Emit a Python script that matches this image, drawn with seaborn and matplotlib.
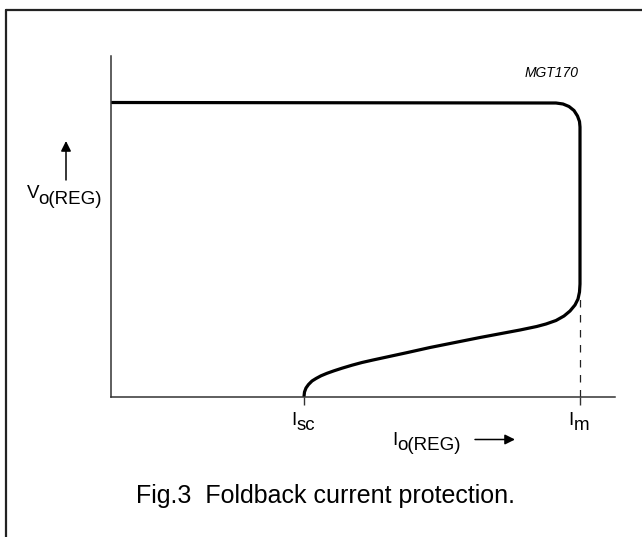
import matplotlib
matplotlib.use("Agg")
import matplotlib.pyplot as plt
from matplotlib.lines import Line2D
import seaborn as sns

# Foldback curve (arbitrary units: current, voltage)
current = [1, 445, 452, 458, 463, 466.5, 468.5, 469,
           469, 468.5, 467, 464, 459, 453, 445, 435, 425.7,
           409, 369, 319, 295.7, 262, 251, 241, 231, 223, 216, 210,
           205, 201, 197.5, 195, 193.5, 193]
voltage = [294.5, 294, 293, 290.5, 286.5, 281, 275.5, 270,
           113, 105, 98, 92, 86, 81, 76.5, 73, 70.5,
           67, 59.5, 49.5, 44.3, 37, 34.5, 31.8, 28.8, 26.2, 23.7, 21.2,
           18.5, 16, 12.5, 9, 5, 0.5]

tick_pos = [193, 469]          # I_sc, I_m
im_dash_top = 99               # dashed drop line at I_m
x_max, y_max = 504, 341

W, H = 642, 537

sns.set_theme(style="white")
plt.rcParams['font.family'] = ['Liberation Sans', 'DejaVu Sans']
plt.rcParams['text.color'] = 'black'


def fx(px):
    return px / W


def fy(py):
    return 1 - py / H


fig = plt.figure(figsize=(W / 100, H / 100), dpi=100)
fig.patch.set_facecolor("white")
ax = fig.add_axes([fx(111), fy(397), (615 - 111) / W, (397 - 56) / H])

sns.lineplot(x=current, y=voltage, sort=False, estimator=None,
             color="black", linewidth=2.3, ax=ax)
ax.lines[0].set_solid_joinstyle("round")
ax.lines[0].set_solid_capstyle("round")

ax.vlines(tick_pos[1], 0, im_dash_top, colors="#222222", linewidth=0.9,
          linestyles=(0, (6, 6)))

ax.set_xlim(0, x_max)
ax.set_ylim(0, y_max)
ax.set_xticks(tick_pos)
ax.set_xticklabels(["", ""])
ax.set_yticks([])
ax.tick_params(axis="x", direction="out", length=5.5, width=1.0,
               colors="#333333", bottom=True)
for spine in ["top", "right"]:
    ax.spines[spine].set_visible(False)
for spine in ["left", "bottom"]:
    ax.spines[spine].set_color("#333333")
    ax.spines[spine].set_linewidth(1.1)
ax.set_facecolor("none")
ax.grid(False)

# frame (only top and left edges are visible)
fig.add_artist(Line2D([fx(5.7), 1], [fy(9.5), fy(9.5)], color="#222222",
                      linewidth=1.6, transform=fig.transFigure))
fig.add_artist(Line2D([fx(5.7), fx(5.7)], [fy(9.5), 0], color="#222222",
                      linewidth=1.6, transform=fig.transFigure))

lab = 13.5
# V_o(REG)
fig.text(fx(26.6), fy(198), "V", fontsize=lab, va="baseline", ha="left")
fig.text(fx(38.5), fy(204.5), "o(REG)", fontsize=lab, va="baseline", ha="left")
# I_sc, I_m
fig.text(fx(291), fy(425), "I", fontsize=lab, va="baseline", ha="left")
fig.text(fx(296.5), fy(430), "sc", fontsize=lab, va="baseline", ha="left")
fig.text(fx(568.5), fy(425), "I", fontsize=lab, va="baseline", ha="left")
fig.text(fx(573.5), fy(430), "m", fontsize=lab, va="baseline", ha="left")
# I_o(REG)
fig.text(fx(392.5), fy(445), "I", fontsize=lab, va="baseline", ha="left")
fig.text(fx(397), fy(450), "o(REG)", fontsize=lab, va="baseline", ha="left")

arrow = dict(arrowstyle="-|>", color="black", lw=1.1, mutation_scale=15,
             shrinkA=0, shrinkB=0)
ax.annotate("", xy=(fx(515), fy(439.5)), xycoords="figure fraction",
            xytext=(fx(475), fy(439.5)), textcoords="figure fraction",
            arrowprops=arrow, annotation_clip=False)
ax.annotate("", xy=(fx(66), fy(141)), xycoords="figure fraction",
            xytext=(fx(66), fy(180)), textcoords="figure fraction",
            arrowprops=arrow, annotation_clip=False)

fig.text(fx(525), fy(73), "MGT170", fontsize=10, style="italic",
         va="center", ha="left")

fig.text(fx(325), fy(503), "Fig.3  Foldback current protection.",
         fontsize=18, va="baseline", ha="center")

fig.savefig("out.png", dpi=100, facecolor="white")
